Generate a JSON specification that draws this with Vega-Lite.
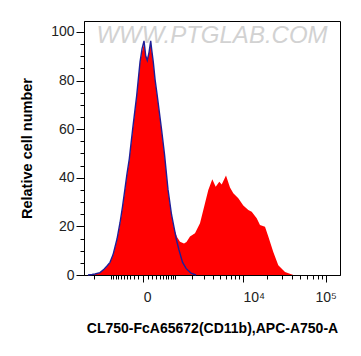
{
  "$schema": "https://vega.github.io/schema/vega-lite/v6.json",
  "width": 256,
  "height": 254,
  "autosize": {"type": "none"},
  "padding": {"left": 84, "top": 21, "right": 21, "bottom": 81},
  "background": "white",
  "title": {"text": "WWW.PTGLAB.COM", "color": "#d2d2d2", "fontSize": 24, "font": "Liberation Sans", "fontStyle": "italic", "fontWeight": "normal", "anchor": "middle", "frame": "group", "offset": -27},
  "config": {"view": {"stroke": "#000", "strokeWidth": 1}, "font": "Liberation Sans"},
  "data": {"values": [
    {"s": "sample", "x": -2501, "y": 0},
    {"s": "sample", "x": -2169, "y": 0.1},
    {"s": "sample", "x": -1944, "y": 0.3},
    {"s": "sample", "x": -1607, "y": 0.9},
    {"s": "sample", "x": -1368, "y": 2.3},
    {"s": "sample", "x": -1205, "y": 3.5},
    {"s": "sample", "x": -1055, "y": 5.0},
    {"s": "sample", "x": -916, "y": 8.0},
    {"s": "sample", "x": -748, "y": 14.4},
    {"s": "sample", "x": -633, "y": 21.0},
    {"s": "sample", "x": -545, "y": 27.6},
    {"s": "sample", "x": -462, "y": 35.0},
    {"s": "sample", "x": -400, "y": 41.2},
    {"s": "sample", "x": -332, "y": 47.3},
    {"s": "sample", "x": -239, "y": 59.7},
    {"s": "sample", "x": -141, "y": 73.3},
    {"s": "sample", "x": -67, "y": 87.2},
    {"s": "sample", "x": -25, "y": 92.0},
    {"s": "sample", "x": 14, "y": 95.0},
    {"s": "sample", "x": 50, "y": 90.5},
    {"s": "sample", "x": 82, "y": 89.0},
    {"s": "sample", "x": 120, "y": 91.5},
    {"s": "sample", "x": 160, "y": 95.0},
    {"s": "sample", "x": 189, "y": 91.5},
    {"s": "sample", "x": 224, "y": 87.2},
    {"s": "sample", "x": 269, "y": 80.2},
    {"s": "sample", "x": 332, "y": 73.3},
    {"s": "sample", "x": 459, "y": 59.7},
    {"s": "sample", "x": 559, "y": 49.4},
    {"s": "sample", "x": 686, "y": 35.0},
    {"s": "sample", "x": 826, "y": 24.7},
    {"s": "sample", "x": 957, "y": 18.5},
    {"s": "sample", "x": 1074, "y": 15.6},
    {"s": "sample", "x": 1226, "y": 13.7},
    {"s": "sample", "x": 1449, "y": 13.0},
    {"s": "sample", "x": 1600, "y": 13.6},
    {"s": "sample", "x": 1831, "y": 15.8},
    {"s": "sample", "x": 2201, "y": 17.2},
    {"s": "sample", "x": 2625, "y": 21.3},
    {"s": "sample", "x": 3110, "y": 29.5},
    {"s": "sample", "x": 3469, "y": 35.0},
    {"s": "sample", "x": 3947, "y": 39.4},
    {"s": "sample", "x": 4398, "y": 36.3},
    {"s": "sample", "x": 4923, "y": 38.4},
    {"s": "sample", "x": 5302, "y": 37.2},
    {"s": "sample", "x": 6045, "y": 40.9},
    {"s": "sample", "x": 6820, "y": 36.0},
    {"s": "sample", "x": 7525, "y": 33.6},
    {"s": "sample", "x": 8720, "y": 31.6},
    {"s": "sample", "x": 10093, "y": 28.6},
    {"s": "sample", "x": 11660, "y": 26.7},
    {"s": "sample", "x": 12852, "y": 26.0},
    {"s": "sample", "x": 14820, "y": 23.3},
    {"s": "sample", "x": 16270, "y": 20.6},
    {"s": "sample", "x": 18740, "y": 19.9},
    {"s": "sample", "x": 20560, "y": 15.8},
    {"s": "sample", "x": 23640, "y": 9.5},
    {"s": "sample", "x": 27170, "y": 4.0},
    {"s": "sample", "x": 32740, "y": 1.2},
    {"s": "sample", "x": 41170, "y": 0},
    {"s": "control", "x": -2501, "y": 0},
    {"s": "control", "x": -2169, "y": 0.2},
    {"s": "control", "x": -1944, "y": 0.4},
    {"s": "control", "x": -1607, "y": 1.0},
    {"s": "control", "x": -1368, "y": 2.4},
    {"s": "control", "x": -1205, "y": 3.7},
    {"s": "control", "x": -1055, "y": 5.2},
    {"s": "control", "x": -916, "y": 8.3},
    {"s": "control", "x": -748, "y": 14.8},
    {"s": "control", "x": -633, "y": 21.5},
    {"s": "control", "x": -545, "y": 28.0},
    {"s": "control", "x": -462, "y": 35.5},
    {"s": "control", "x": -400, "y": 41.6},
    {"s": "control", "x": -332, "y": 47.8},
    {"s": "control", "x": -239, "y": 60.2},
    {"s": "control", "x": -141, "y": 73.8},
    {"s": "control", "x": -67, "y": 87.6},
    {"s": "control", "x": -25, "y": 93.0},
    {"s": "control", "x": 14, "y": 96.3},
    {"s": "control", "x": 50, "y": 90.0},
    {"s": "control", "x": 82, "y": 88.3},
    {"s": "control", "x": 120, "y": 91.5},
    {"s": "control", "x": 160, "y": 96.3},
    {"s": "control", "x": 189, "y": 92.0},
    {"s": "control", "x": 224, "y": 87.6},
    {"s": "control", "x": 269, "y": 80.6},
    {"s": "control", "x": 332, "y": 73.6},
    {"s": "control", "x": 459, "y": 60.0},
    {"s": "control", "x": 559, "y": 49.6},
    {"s": "control", "x": 686, "y": 35.2},
    {"s": "control", "x": 826, "y": 24.9},
    {"s": "control", "x": 957, "y": 18.6},
    {"s": "control", "x": 1050, "y": 14.4},
    {"s": "control", "x": 1174, "y": 10.3},
    {"s": "control", "x": 1362, "y": 5.3},
    {"s": "control", "x": 1570, "y": 2.7},
    {"s": "control", "x": 1901, "y": 0.8},
    {"s": "control", "x": 2282, "y": 0}
  ]},
  "encoding": {
    "x": {
      "field": "x", "type": "quantitative",
      "scale": {"type": "symlog", "constant": 720, "domain": [-2869, 147700], "nice": false},
      "axis": {
        "title": "CL750-FcA65672(CD11b),APC-A750-A",
        "titleFont": "Liberation Sans", "titleFontSize": 14, "titleFontWeight": "bold", "titleColor": "#000", "titlePadding": 17,
        "values": [-2000, -1000, -900, -800, -700, -600, -500, -400, -300, -200, -100, 0, 100, 200, 300, 400, 500, 600, 700, 800, 900, 1000, 2000, 3000, 4000, 5000, 6000, 7000, 8000, 9000, 10000, 20000, 30000, 40000, 50000, 60000, 70000, 80000, 90000, 100000],
        "labelExpr": "datum.value === 0 ? '0' : datum.value === 10000 ? '10⁴' : datum.value === 100000 ? '10⁵' : ''",
        "labelFont": "Liberation Sans", "labelFontSize": 14, "labelColor": "#222", "labelPadding": 8,
        "labelAlign": {"condition": {"test": "datum.value === 100000", "value": "center"}, "value": "left"},
        "labelOverlap": false, "labelBound": false, "labelFlush": false,
        "tickSize": {"condition": {"test": "datum.value === 0 || datum.value === 10000 || datum.value === 100000", "value": 7}, "value": 4},
        "tickColor": "#000", "domainColor": "#000", "grid": false
      }
    },
    "y": {
      "field": "y", "type": "quantitative",
      "scale": {"domain": [0, 104.5], "nice": false},
      "axis": {
        "title": "Relative cell number",
        "titleFont": "Liberation Sans", "titleFontSize": 14.5, "titleFontWeight": "bold", "titleColor": "#000", "titlePadding": 16,
        "values": [0, 5, 10, 15, 20, 25, 30, 35, 40, 45, 50, 55, 60, 65, 70, 75, 80, 85, 90, 95, 100],
        "labelExpr": "datum.value % 20 === 0 ? datum.label : ''",
        "labelFont": "Liberation Sans", "labelFontSize": 14, "labelColor": "#222", "labelPadding": 2,
        "tickSize": {"condition": {"test": "datum.value % 20 === 0", "value": 8}, "value": 4},
        "tickColor": "#000", "domainColor": "#000", "grid": false, "labelFlush": false
      }
    }
  },
  "layer": [
    {
      "transform": [{"filter": "datum.s === 'sample'"}],
      "mark": {"type": "area", "color": "#ff0000", "interpolate": "linear"}
    },
    {
      "transform": [{"filter": "datum.s === 'control'"}],
      "mark": {"type": "line", "color": "#1e1e98", "strokeWidth": 1.4, "interpolate": "linear"}
    }
  ]
}
